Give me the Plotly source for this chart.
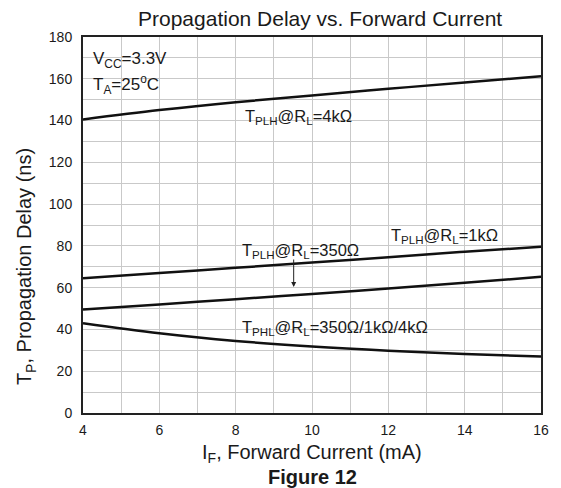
import plotly.graph_objects as go

# ---- data ----
forward_current = [4, 6, 8, 10, 12, 14, 16]
tplh_4k = [140.5, 145.0, 148.8, 152.0, 155.2, 158.2, 161.2]
tplh_1k = [64.5, 67.0, 69.5, 72.0, 74.6, 77.2, 79.6]
tplh_350 = [49.5, 52.0, 54.5, 57.0, 59.6, 62.3, 65.2]
tphl_all = [43.0, 38.2, 34.5, 31.8, 29.8, 28.3, 27.0]

x_ticks = [4, 6, 8, 10, 12, 14, 16]
y_ticks = [0, 20, 40, 60, 80, 100, 120, 140, 160, 180]

FONT = "Liberation Sans, Arial, sans-serif"
TXT = "#1a1a1a"

fig = go.Figure()
for ys in (tplh_4k, tplh_1k, tplh_350, tphl_all):
    fig.add_trace(go.Scatter(x=forward_current, y=ys, mode="lines",
                             line=dict(color="#111111", width=2.5, shape="spline"),
                             showlegend=False, hoverinfo="skip"))

grid = "#c9c9c9"
fig.update_xaxes(range=[4, 16], tickvals=x_ticks, ticks="", showgrid=True, gridcolor=grid,
                 gridwidth=1, minor=dict(dtick=1, showgrid=True, gridcolor=grid, gridwidth=1),
                 showline=True, linecolor="#222222", linewidth=2, mirror=True, zeroline=False,
                 tickfont=dict(family=FONT, size=14, color=TXT), ticklabelstandoff=3)
fig.update_yaxes(range=[0, 180], tickvals=y_ticks, ticks="", showgrid=True, gridcolor=grid,
                 gridwidth=1, minor=dict(dtick=10, showgrid=True, gridcolor=grid, gridwidth=1),
                 showline=True, linecolor="#222222", linewidth=2, mirror=True, zeroline=False,
                 tickfont=dict(family=FONT, size=14, color=TXT), ticklabelstandoff=6)

ann = []
def txt(x, y, s, size=16.5, xref="x", yref="y", xanchor="left", yanchor="middle", bold=False, angle=0):
    if bold:
        s = "<b>" + s + "</b>"
    ann.append(dict(x=x, y=y, xref=xref, yref=yref, text=s, showarrow=False,
                    xanchor=xanchor, yanchor=yanchor, textangle=angle,
                    font=dict(family=FONT, size=size, color=TXT)))

txt(4.2, 169, "V<sub>CC</sub>=3.3V", size=17)
txt(4.2, 157.5, "T<sub>A</sub>=25<sup>o</sup>C", size=17)
txt(8.2, 141.5, "T<sub>PLH</sub>@R<sub>L</sub>=4kΩ")
txt(8.12, 77.5, "T<sub>PLH</sub>@R<sub>L</sub>=350Ω")
txt(12.03, 84.5, "T<sub>PLH</sub>@R<sub>L</sub>=1kΩ")
txt(8.12, 40.5, "T<sub>PHL</sub>@R<sub>L</sub>=350Ω/1kΩ/4kΩ")

txt(0.518, 1.05, "Propagation Delay vs. Forward Current", size=21, xref="paper", yref="paper",
    xanchor="center", yanchor="middle")
txt(0.5, -0.108, "I<sub>F</sub>, Forward Current (mA)", size=20, xref="paper", yref="paper",
    xanchor="center", yanchor="middle")
txt(0.5, -0.17, "Figure 12", size=20, xref="paper", yref="paper",
    xanchor="center", yanchor="middle", bold=True)
txt(-0.125, 0.39, "T<sub>P</sub>, Propagation Delay (ns)", size=20, xref="paper", yref="paper",
    xanchor="center", yanchor="middle", angle=-90)

ann.append(dict(x=9.52, y=60.3, ax=9.52, ay=74.2, xref="x", yref="y", axref="x", ayref="y",
                text="", showarrow=True, arrowhead=2, arrowsize=1, arrowwidth=1,
                arrowcolor="#222222"))

fig.update_layout(width=561, height=488, margin=dict(l=83, r=15, t=37, b=75),
                  plot_bgcolor="white", paper_bgcolor="white", annotations=ann)

fig.write_html("out.html", config={"displayModeBar": False},
               post_script="document.body.style.margin='0';document.body.style.overflow='hidden';")
